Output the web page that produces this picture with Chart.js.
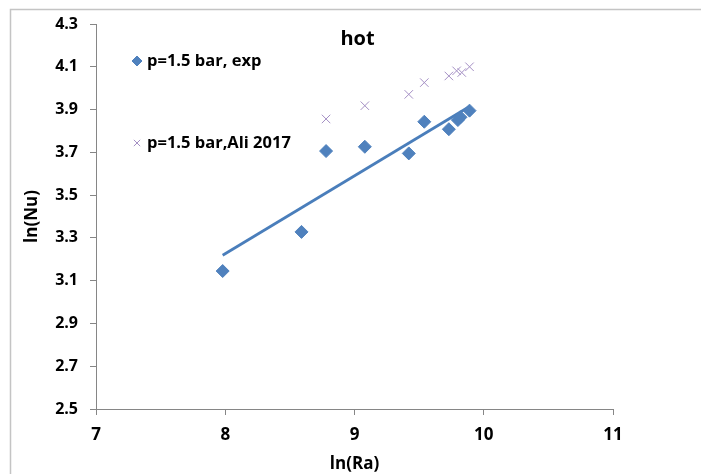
<!DOCTYPE html>
<html>
<head>
<meta charset="utf-8">
<script src="https://cdn.jsdelivr.net/npm/chart.js@4.4.1/dist/chart.umd.min.js"></script>
<style>
  html, body { margin: 0; padding: 0; background: #fff; }
  #wrap { position: relative; width: 701px; height: 474px; }
</style>
</head>
<body>
<div id="wrap"><canvas id="chart" width="701" height="474"></canvas></div>
<script>
// measured data: ln(Ra) vs ln(Nu), hot side
var expRa = [7.98, 8.59, 8.78, 9.08, 9.42, 9.54, 9.73, 9.80, 9.82, 9.89];
var expNu = [3.145, 3.328, 3.706, 3.726, 3.695, 3.843, 3.808, 3.851, 3.864, 3.895];

// Ali 2017 correlation
var aliRa = [8.78, 9.08, 9.42, 9.54, 9.73, 9.79, 9.83, 9.89];
var aliNu = [3.856, 3.918, 3.971, 4.026, 4.057, 4.081, 4.073, 4.100];

var xTicks = [7, 8, 9, 10, 11];
var yTicks = [2.5, 2.7, 2.9, 3.1, 3.3, 3.5, 3.7, 3.9, 4.1, 4.3];

var labelExp = 'p=1.5 bar, exp';
var labelAli = 'p=1.5 bar,Ali 2017';
var chartTitle = 'hot';

// linear trendline (least squares) through the exp points
function linearFit(xs, ys) {
  var n = xs.length, sx = 0, sy = 0, sxy = 0, sxx = 0;
  for (var i = 0; i < n; i++) {
    sx += xs[i]; sy += ys[i]; sxy += xs[i] * ys[i]; sxx += xs[i] * xs[i];
  }
  var slope = (n * sxy - sx * sy) / (n * sxx - sx * sx);
  var icpt = (sy - slope * sx) / n;
  var x0 = Math.min.apply(null, xs), x1 = Math.max.apply(null, xs);
  return [{ x: x0, y: slope * x0 + icpt }, { x: x1, y: slope * x1 + icpt }];
}

function toPoints(xs, ys) {
  return xs.map(function (x, i) { return { x: x, y: ys[i] }; });
}

var font = '"Open Sans", Lato, sans-serif';
var axisGrey = '#868686';
var blue = '#4F81BD';
var lilac = '#A48FC4';

// frame, title and in-plot legend
var decor = {
  id: 'decor',
  beforeDraw: function (chart) {
    var ctx = chart.ctx;
    ctx.save();
    ctx.strokeStyle = '#C4C4C4';
    ctx.lineWidth = 1.5;
    ctx.beginPath();
    ctx.moveTo(10.5, 474);
    ctx.lineTo(10.5, 9.5);
    ctx.lineTo(701, 9.5);
    ctx.stroke();
    ctx.restore();
  },
  afterDraw: function (chart) {
    var ctx = chart.ctx;
    var area = chart.chartArea;
    ctx.save();
    ctx.fillStyle = '#000';
    ctx.font = 'bold 20px ' + font;
    ctx.textAlign = 'center';
    ctx.textBaseline = 'middle';
    ctx.fillText(chartTitle, (area.left + area.right) / 2 + 3, 39);

    var items = [
      { ds: chart.data.datasets[0], y: 61 },
      { ds: chart.data.datasets[1], y: 143 }
    ];
    ctx.font = 'bold 16.5px ' + font;
    ctx.textAlign = 'left';
    items.forEach(function (it) {
      ctx.fillStyle = it.ds.backgroundColor;
      ctx.strokeStyle = it.ds.borderColor;
      ctx.lineWidth = it.ds.borderWidth;
      Chart.helpers.drawPoint(ctx, { pointStyle: it.ds.pointStyle, radius: it.ds.pointRadius - 1.5, borderWidth: it.ds.borderWidth }, 137, it.y);
      ctx.fillStyle = '#000';
      ctx.fillText(it.ds.label, 147, it.y);
    });
    ctx.restore();
  }
};

var axisTick = { display: true, drawOnChartArea: false, drawTicks: true, tickLength: 6, color: axisGrey, lineWidth: 1 };

new Chart(document.getElementById('chart').getContext('2d'), {
  type: 'scatter',
  data: {
    datasets: [{
      label: labelExp,
      data: toPoints(expRa, expNu),
      pointStyle: 'rectRot',
      pointRadius: 6.5,
      backgroundColor: blue,
      borderColor: blue,
      borderWidth: 1,
      order: 1
    }, {
      label: labelAli,
      data: toPoints(aliRa, aliNu),
      pointStyle: 'crossRot',
      pointRadius: 6,
      backgroundColor: lilac,
      borderColor: lilac,
      borderWidth: 1,
      order: 2
    }, {
      type: 'line',
      label: 'trend',
      data: linearFit(expRa, expNu),
      borderColor: '#4A7EBB',
      borderWidth: 2.75,
      pointRadius: 0,
      fill: false,
      order: 3
    }]
  },
  plugins: [decor],
  options: {
    responsive: false,
    animation: false,
    layout: { padding: { top: 24, right: 88, left: 0, bottom: 0 } },
    plugins: {
      legend: { display: false },
      tooltip: { enabled: false },
      title: { display: false }
    },
    scales: {
      x: {
        type: 'linear',
        min: 7, max: 11,
        afterBuildTicks: function (s) { s.ticks = xTicks.map(function (v) { return { value: v }; }); },
        afterFit: function (s) { s.height = 65; },
        grid: axisTick,
        border: { display: true, color: axisGrey, width: 1 },
        ticks: { color: '#000', font: { family: font, size: 17, weight: 'bold' }, padding: 10 },
        title: { display: true, text: 'ln(Ra)', color: '#000', font: { family: font, size: 17, weight: 'bold' }, padding: { top: 0, bottom: 0 } }
      },
      y: {
        type: 'linear',
        min: 2.5, max: 4.3,
        afterBuildTicks: function (s) { s.ticks = yTicks.map(function (v) { return { value: v }; }); },
        afterFit: function (s) { s.width = 96; },
        grid: axisTick,
        border: { display: true, color: axisGrey, width: 1 },
        ticks: {
          color: '#000', font: { family: font, size: 16, weight: 'bold' }, padding: 12,
          callback: function (v) { return v.toFixed(1); }
        },
        title: { display: true, text: 'ln(Nu)', color: '#000', font: { family: font, size: 17, weight: 'bold' }, padding: { top: 22, bottom: 0 } }
      }
    }
  }
});
</script>
</body>
</html>
